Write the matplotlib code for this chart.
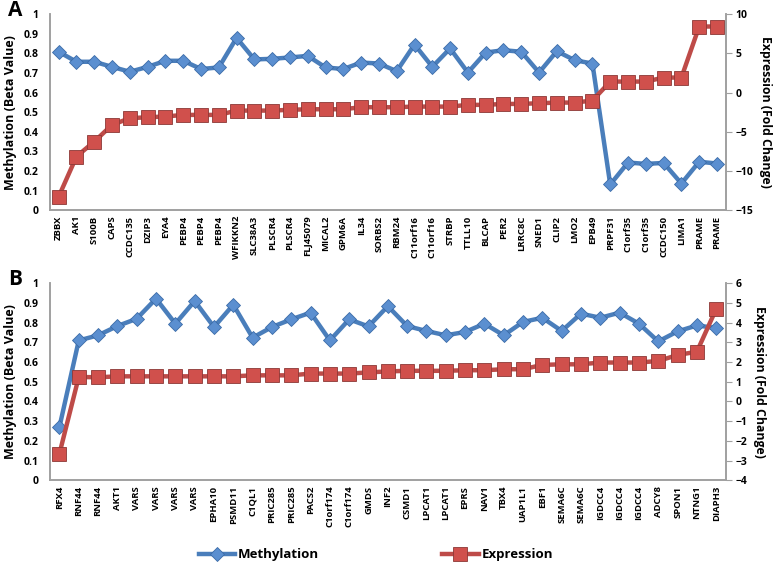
import matplotlib
matplotlib.use("Agg")
import matplotlib.pyplot as plt
from matplotlib.lines import Line2D

plt.rcParams['font.family'] = ['Open Sans', 'DejaVu Sans']
plt.rcParams['font.weight'] = 'bold'

# panel A
genes_a = ["ZBBX", "AK1", "S100B", "CAPS", "CCDC135", "DZIP3", "EYA4", "PEBP4", "PEBP4", "PEBP4",
           "WFIKKN2", "SLC38A3", "PLSCR4", "PLSCR4", "FLJ45079", "MICAL2", "GPM6A", "IL34", "SORBS2",
           "RBM24", "C11orf16", "C11orf16", "STRBP", "TTLL10", "BLCAP", "PER2", "LRRC8C", "SNED1",
           "CLIP2", "LMO2", "EPB49", "PRPF31", "C1orf35", "C1orf35", "CCDC150", "LIMA1", "PRAME", "PRAME"]
meth_a = [0.808, 0.757, 0.757, 0.731, 0.706, 0.731, 0.762, 0.762, 0.720, 0.728,
          0.879, 0.769, 0.772, 0.779, 0.787, 0.728, 0.720, 0.753, 0.748,
          0.709, 0.845, 0.731, 0.825, 0.702, 0.804, 0.816, 0.808, 0.702,
          0.811, 0.765, 0.748, 0.131, 0.243, 0.236, 0.241, 0.136, 0.247, 0.238]
expr_a = [-13.27, -8.16, -6.25, -4.12, -3.27, -3.15, -3.06, -2.85, -2.85, -2.85,
          -2.30, -2.30, -2.30, -2.20, -2.13, -2.13, -2.13, -1.87, -1.87,
          -1.87, -1.79, -1.79, -1.79, -1.57, -1.57, -1.45, -1.45, -1.36,
          -1.28, -1.28, -1.02, 1.40, 1.40, 1.40, 1.91, 1.91, 8.42, 8.42]

# panel B
genes_b = ["RFX4", "RNF44", "RNF44", "AKT1", "VARS", "VARS", "VARS", "VARS", "EPHA10", "PSMD11",
           "C1QL1", "PRIC285", "PRIC285", "PACS2", "C1orf174", "C1orf174", "GMDS", "INF2", "CSMD1",
           "LPCAT1", "LPCAT1", "EPRS", "NAV1", "TBX4", "UAP1L1", "EBF1", "SEMA6C", "SEMA6C",
           "IGDCC4", "IGDCC4", "IGDCC4", "ADCY8", "SPON1", "NTNG1", "DIAPH3"]
meth_b = [0.270, 0.709, 0.735, 0.782, 0.819, 0.921, 0.794, 0.909, 0.777, 0.890,
          0.723, 0.777, 0.816, 0.850, 0.709, 0.816, 0.780, 0.883, 0.782,
          0.757, 0.735, 0.752, 0.794, 0.735, 0.803, 0.824, 0.757, 0.845,
          0.824, 0.850, 0.794, 0.704, 0.755, 0.785, 0.772]
expr_b = [-2.65, 1.24, 1.22, 1.27, 1.27, 1.27, 1.27, 1.27, 1.27, 1.27,
          1.32, 1.32, 1.32, 1.41, 1.41, 1.41, 1.47, 1.52, 1.55,
          1.55, 1.55, 1.58, 1.58, 1.63, 1.63, 1.85, 1.88, 1.88,
          1.97, 1.97, 1.97, 2.05, 2.35, 2.52, 4.69]

blue_line = "#4A7EBB"
blue_face = "#5B8FD0"
blue_edge = "#3A6BA8"
red_line = "#BE4B48"
red_face = "#D0504C"
red_edge = "#8C3836"
spine_col = "#A0A0A0"

fig = plt.figure(figsize=(7.78, 5.65), dpi=100)


def panel(rect, genes, meth, expr, rticks, letter):
    ax = fig.add_axes(rect)
    x = range(len(genes))
    ax.plot(x, meth, color=blue_line, lw=3.2, marker="D", ms=7.5,
            mfc=blue_face, mec=blue_edge, mew=0.6, zorder=3)
    ax.set_xlim(-0.5, len(genes) - 0.5)
    ax.set_ylim(0, 1)
    ax.set_yticks([i / 10 for i in range(11)])
    ax.set_yticklabels(["0"] + ["%.1f" % (i / 10) for i in range(1, 10)] + ["1"])
    ax.set_xticks(list(x))
    ax.set_xticklabels(genes, rotation=90, fontsize=6.8)
    ax.tick_params(axis="y", length=0, labelsize=7.5, pad=8)
    ax.tick_params(axis="x", length=0, pad=4)
    ax.set_ylabel("Methylation (Beta Value)", fontsize=9, fontweight="bold", labelpad=5)

    ax2 = ax.twinx()
    ax2.plot(x, expr, color=red_line, lw=3.2, marker="s", ms=10.5,
             mfc=red_face, mec=red_edge, mew=0.6, zorder=3)
    ax2.set_ylim(rticks[0], rticks[-1])
    ax2.set_yticks(rticks)
    ax2.tick_params(axis="y", length=4, labelsize=7.5, color=spine_col, pad=3)
    ax2.set_ylabel("Expression (Fold Change)", fontsize=8.8, fontweight="bold",
                   rotation=-90, va="bottom", labelpad=4)

    for a in (ax, ax2):
        a.spines["top"].set_visible(False)
        for s in ("left", "right", "bottom"):
            a.spines[s].set_color(spine_col)
            a.spines[s].set_linewidth(1.2)
    ax.text(-0.062, 1.02, letter, transform=ax.transAxes, fontsize=15,
            fontweight="bold", ha="left", va="center")
    return ax, ax2


panel([0.064, 0.628, 0.869, 0.347], genes_a, meth_a, expr_a,
      list(range(-15, 11, 5)), "A")
panel([0.064, 0.150, 0.869, 0.349], genes_b, meth_b, expr_b,
      list(range(-4, 7)), "B")

handles = [
    Line2D([], [], color=blue_line, lw=3.2, marker="D", ms=7.5,
           mfc=blue_face, mec=blue_edge, mew=0.6),
    Line2D([], [], color=red_line, lw=3.2, marker="s", ms=10.5,
           mfc=red_face, mec=red_edge, mew=0.6),
]
fig.legend(handles, ["Methylation", "Expression"], loc="center",
           bbox_to_anchor=(0.483, 0.018), ncol=2, frameon=False,
           handlelength=2.8, handletextpad=0.2, columnspacing=9.3,
           prop={"size": 9.5, "weight": "bold"})

fig.savefig("out.png", dpi=100)
